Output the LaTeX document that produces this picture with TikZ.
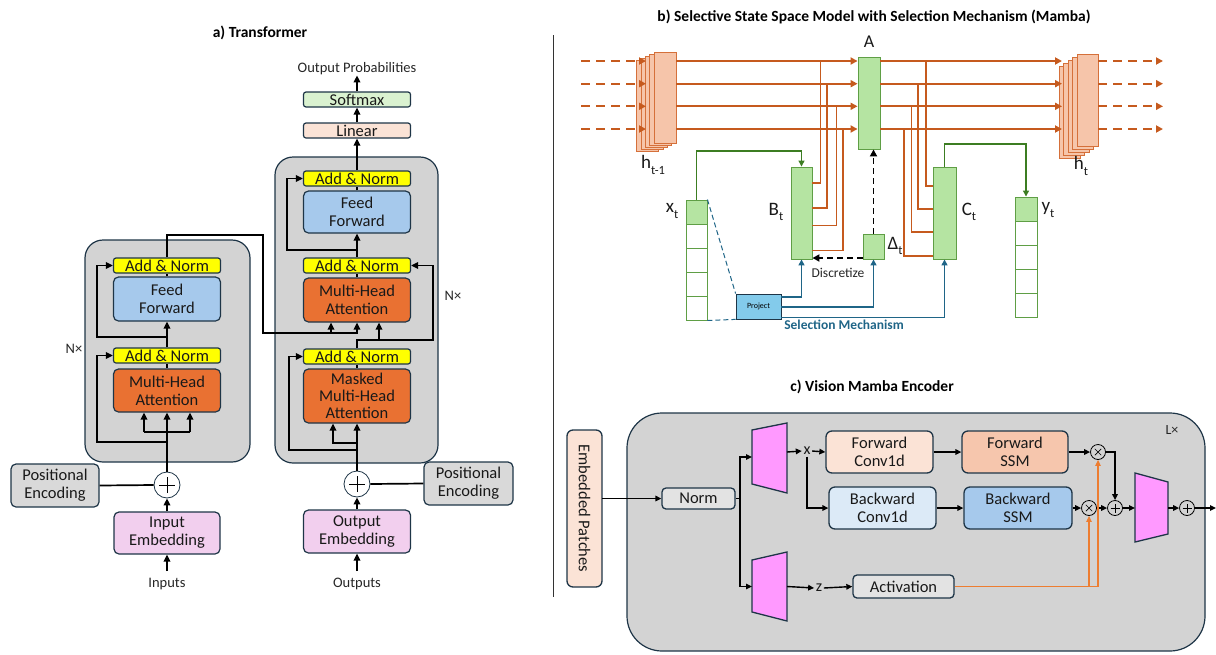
\documentclass[tikz,border=0pt]{standalone}
\usepackage{fontspec}
\setmainfont{Carlito}
\usetikzlibrary{arrows.meta}

\definecolor{edge}{HTML}{1E3547}
\definecolor{panelbg}{HTML}{D3D3D3}
\definecolor{addnorm}{HTML}{FFFF00}
\definecolor{ffblue}{HTML}{A6C9EC}
\definecolor{attn}{HTML}{E97132}
\definecolor{posgray}{HTML}{D9D9D9}
\definecolor{embpink}{HTML}{F2CFEE}
\definecolor{linpeach}{HTML}{FBE3D6}
\definecolor{softgreen}{HTML}{DAF2D0}
\definecolor{hline}{HTML}{C65A1E}
\definecolor{hfill}{HTML}{F6C5AA}
\definecolor{hedge}{HTML}{D5703A}
\definecolor{mgreen}{HTML}{B5E4A2}
\definecolor{mgedge}{HTML}{5F9E45}
\definecolor{garrow}{HTML}{3C7D22}
\definecolor{selblue}{HTML}{1F6587}
\definecolor{projfill}{HTML}{83CBEB}
\definecolor{convblue}{HTML}{DCEAF7}
\definecolor{ssmpeach}{HTML}{F6C6AD}
\definecolor{trapfill}{HTML}{FF99FF}
\definecolor{actline}{HTML}{ED7D31}
\definecolor{normgray}{HTML}{E3E3E3}

\newcommand\lowsub[1]{\raisebox{-0.3em}{\fontsize{12.5}{12.5}\selectfont #1}}
\newcommand\bx[7]{\node[#6, minimum width=#4, minimum height=#5] (#1) at (#2,#3) {#7};}
\newcommand\plusmark[2]{\draw[line width=0.7pt] ([xshift=-#2]#1.center) -- ([xshift=#2]#1.center) ([yshift=-#2]#1.center) -- ([yshift=#2]#1.center);}
\newcommand\timesmark[2]{\draw[line width=0.7pt] ([xshift=-#2,yshift=-#2]#1.center) -- ([xshift=#2,yshift=#2]#1.center) ([xshift=-#2,yshift=#2]#1.center) -- ([xshift=#2,yshift=-#2]#1.center);}

\tikzset{
  blk/.style={draw=edge, line width=1.2pt, rounded corners=5pt, align=center,
    inner sep=0pt, text=black!90, font=\fontsize{16.5}{18}\selectfont},
  bar/.style={blk, rounded corners=2.5pt},
  panel/.style={fill=panelbg, draw=edge, line width=1.2pt},
  lbl/.style={inner sep=0pt, text=black!85, font=\fontsize{14.5}{16}\selectfont},
  ttl/.style={inner sep=0pt, font=\fontsize{15.5}{17}\selectfont\bfseries},
  sym/.style={inner sep=0pt, text=black!90, font=\fontsize{19}{20}\selectfont},
  sumnode/.style={circle, draw=edge, line width=0.8pt, fill=white, minimum size=26pt, inner sep=0pt},
  opnode/.style={circle, draw=black, line width=0.8pt, minimum size=15pt, inner sep=0pt},
  wire/.style={line width=1.7pt},
  arr/.style={wire, -{Triangle[length=7pt,width=6.5pt]}},
  carr/.style={line width=1.4pt, -{Triangle[length=6pt,width=5.5pt]}},
  hw/.style={draw=hline, line width=1.8pt},
  harr/.style={hw, -{Triangle[length=7pt,width=7pt]}},
  hdash/.style={harr, dash pattern=on 9pt off 6pt},
  hstack/.style={draw=hedge, fill=hfill, line width=0.8pt},
  mbox/.style={draw=mgedge, fill=mgreen, line width=0.9pt, inner sep=0pt},
  cell/.style={draw=mgedge, fill=white, line width=0.9pt, inner sep=0pt, minimum width=21pt, minimum height=24pt},
  garr/.style={draw=garrow, line width=1.2pt, -{Triangle[length=6pt,width=6pt]}},
  barr/.style={draw=selblue, line width=1.8pt, -{Triangle[length=6pt,width=6pt]}},
  bdash/.style={draw=selblue, line width=1pt, dash pattern=on 5pt off 3pt},
  karr/.style={line width=1.8pt, dash pattern=on 6pt off 4pt, -{Triangle[length=7pt,width=7pt]}},
  mblk/.style={blk, line width=1.3pt, rounded corners=6pt},
  sblk/.style={mblk, rounded corners=4pt},
  trap/.style={draw=edge, fill=trapfill, line width=1.3pt},
  oarr/.style={draw=actline, line width=1.2pt, -{Triangle[length=6pt,width=5.5pt]}},
}

\begin{document}
\begin{tikzpicture}[x=1pt,y=-1pt]
\useasboundingbox (0,0) rectangle (1216,654);

% ================= a) Transformer =================
\node[ttl] at (260,33) {a) Transformer};

% encoder
\draw[panel, rounded corners=18pt] (85,240) rectangle (250,462);
\bx{encAN2}{167}{265.5}{107}{15}{bar, fill=addnorm}{Add \& Norm}
\bx{encFF}{167}{299}{107}{44}{blk, fill=ffblue}{Feed\\Forward}
\bx{encAN1}{167}{355.5}{107}{15}{bar, fill=addnorm}{Add \& Norm}
\bx{encMHA}{167}{390.5}{107}{43}{blk, fill=attn}{Multi-Head\\Attention}
\node[sumnode] (encSum) at (167,485) {};
\plusmark{encSum}{8pt}
\bx{encPE}{55}{485.5}{88}{43}{blk, fill=posgray}{Positional\\Encoding}
\bx{encEmb}{167}{533}{106}{42}{blk, fill=embpink}{Input\\Embedding}
\node[lbl] (inputs) at (167,584) {Inputs};
\node[lbl] at (74,349) {N×};

% decoder
\draw[panel, rounded corners=18pt] (275,157) rectangle (438,463);
\bx{decSoft}{357}{99.5}{107}{15}{bar, fill=softgreen}{Softmax}
\bx{decLin}{357}{130.5}{107}{15}{bar, fill=linpeach}{Linear}
\bx{decAN3}{357}{178.5}{107}{15}{bar, fill=addnorm}{Add \& Norm}
\bx{decFF}{357}{212}{107}{42}{blk, fill=ffblue}{Feed\\Forward}
\bx{decAN2}{357}{265.5}{107}{15}{bar, fill=addnorm}{Add \& Norm}
\bx{decMHA}{357}{300}{107}{44}{blk, fill=attn}{Multi-Head\\Attention}
\bx{decAN1}{357}{356.5}{107}{15}{bar, fill=addnorm}{Add \& Norm}
\bx{decMMHA}{357}{396}{107}{54}{blk, fill=attn, font=\fontsize{16.5}{17}\selectfont}{Masked\\Multi-Head\\Attention}
\node[sumnode] (decSum) at (357,484) {};
\plusmark{decSum}{8pt}
\bx{decPE}{468.5}{483.5}{89}{43}{blk, fill=posgray}{Positional\\Encoding}
\bx{decEmb}{357}{531.5}{107}{43}{blk, fill=embpink}{Output\\Embedding}
\node[lbl] (outputs) at (357,584) {Outputs};
\node[lbl] (outprob) at (357,69) {Output Probabilities};
\node[lbl] at (453,296) {N×};

% encoder wiring
\draw[arr] (inputs) ++(0,-13) -- (encEmb.south);
\draw[arr] (encEmb.north) -- (encSum.south);
\draw[wire] (encPE.east) -- (encSum.west);
\draw[arr] (encSum.north) -- (encMHA.south);
\draw[wire] (144,432) -- (190,432);
\draw[arr] (144,432) -- (encMHA.south -| 144,0);
\draw[arr] (190,432) -- (encMHA.south -| 190,0);
\draw[arr] (167,442) -- (97,442) |- (encAN1.west);
\draw[wire] (encMHA.north) -- (encAN1.south);
\draw[arr] (encAN1.north) -- (encFF.south);
\draw[arr] (167,337) -- (97,337) |- (encAN2.west);
\draw[wire] (encFF.north) -- (encAN2.south);
\draw[arr] (encAN2.north) -- (167,235) -- (263,235) -- (263,333) -- (357,333) -- (decMHA.south);
\draw[arr] (331,333) -- (decMHA.south -| 331,0);

% decoder wiring
\draw[arr] (outputs) ++(0,-13) -- (decEmb.south);
\draw[arr] (decEmb.north) -- (decSum.south);
\draw[wire] (decSum.east) -- (decPE.west);
\draw[arr] (decSum.north) -- (decMMHA.south);
\draw[arr] (357,443) -- (333,443) -- (decMMHA.south -| 333,0);
\draw[arr] (357,450) -- (289,450) |- (decAN1.west);
\draw[wire] (decMMHA.north) -- (decAN1.south);
\draw[arr] (decAN1.north) -- (357,340) -- (379,340) -- (decMHA.south -| 379,0);
\draw[arr] (379,340) -- (433,340) |- (decAN2.east);
\draw[wire] (decMHA.north) -- (decAN2.south);
\draw[arr] (decAN2.north) -- (decFF.south);
\draw[arr] (357,250) -- (287,250) |- (decAN3.west);
\draw[wire] (decFF.north) -- (decAN3.south);
\draw[arr] (decAN3.north) -- (decLin.south);
\draw[arr] (decLin.north) -- (decSoft.south);
\draw[arr] (decSoft.north) -- (outprob.south);

% divider
\draw[line width=1pt, black!80] (553,35) -- (553,597);

% ================= b) Selective SSM =================
\node[ttl] at (874,17) {b) Selective State Space Model with Selection Mechanism (Mamba)};

% hidden state stacks
\foreach \k in {4,3,2,1} \draw[hstack] ({654-4.3*\k},{52+2*\k}) rectangle ({676-4.3*\k},{143+2*\k});
\node[hstack, minimum width=22, minimum height=91, inner sep=0pt] (hprev) at (665,97.5) {};
\foreach \k in {4,3,2,1} \draw[hstack] ({1077-4.5*\k},{54+3*\k}) rectangle ({1098-4.5*\k},{146+3*\k});
\node[hstack, minimum width=21, minimum height=92, inner sep=0pt] (hnext) at (1087.5,100) {};

% parameter blocks
\node[mbox, minimum width=22, minimum height=92] (A) at (869,103) {};
\node[mbox, minimum width=21, minimum height=92] (B) at (801.5,213) {};
\node[mbox, minimum width=23, minimum height=92] (C) at (944.5,213) {};
\node[mbox, minimum width=21, minimum height=25] (D) at (873.5,246.5) {};

\node[sym, font=\fontsize{18}{19}\selectfont] at (869,42) {A};
\node[sym] at (653,165) {h\lowsub{t-1}};
\node[sym] at (1081,166) {h\lowsub{t}};
\node[sym] at (776,212) {B\lowsub{t}};
\node[sym] at (969,212) {C\lowsub{t}};
\node[sym] at (895,246) {Δ\lowsub{t}};
\node[sym] at (672,211) {x\lowsub{t}};
\node[sym] at (1048,210) {y\lowsub{t}};

% state channels
\foreach \y in {61,83.7,106.3,129} {
  \draw[hdash] (581,\y) -- (646,\y);
  \draw[harr] (hprev.east |- 0,\y) -- (A.west |- 0,\y);
  \draw[harr] (A.east |- 0,\y) -- (1062,\y);
  \draw[hdash] (hnext.east |- 0,\y) -- (1163,\y);
}
\draw[hw] (820.5,61) |- (B.east |- 0,183);
\draw[hw] (827,83.7) |- (B.east |- 0,208);
\draw[hw] (836.5,106.3) |- (B.east |- 0,225.5);
\draw[hw] (843,129) |- (B.east |- 0,250.5);
\draw[hw] (926,61) |- (C.west |- 0,186);
\draw[hw] (918,83.7) |- (C.west |- 0,209);
\draw[hw] (911.5,106.3) |- (C.west |- 0,232);
\draw[hw] (904,129) |- (C.west |- 0,256);

% input and output token vectors
\node[cell, fill=mgreen] (x1) at (696.5,212) {};
\foreach \i in {2,...,5} \node[cell] (x\i) at (696.5,{188+24*\i}) {};
\node[cell, fill=mgreen, minimum width=22] (y1) at (1026,209) {};
\foreach \i in {2,...,5} \node[cell, minimum width=22] (y\i) at (1026,{185+24*\i}) {};

\draw[garr] (x1.north) |- (B.north |- 0,151) -- (B.north);
\draw[garr] (C.north) |- (y1.north |- 0,144) -- (y1.north);

% selection mechanism
\node[draw=edge, line width=0.8pt, fill=projfill, minimum width=45, minimum height=25,
      inner sep=0pt, font=\fontsize{8}{8}\selectfont] (proj) at (758.5,306.5) {Project};
\draw[bdash] (x1.north east) -- (proj.north west);
\draw[bdash] (x5.south east) -- (proj.south west);
\draw[barr] (proj.east |- 0,297) -| (B.south);
\draw[barr] (proj.east |- 0,307) -| (D.south);
\draw[barr] (proj.east |- 0,317.5) -| (C.south);
\draw[karr] (D.north) -- (D.north |- A.south);
\draw[karr] (D.west |- 0,258) -- (B.east |- 0,258);
\node[lbl, font=\fontsize{13.5}{15}\selectfont] at (838,273) {Discretize};
\node[inner sep=0pt, text=selblue, font=\fontsize{13.5}{15}\selectfont\bfseries] at (844,325) {Selection Mechanism};

% ================= c) Vision Mamba Encoder =================
\node[ttl] at (872,387) {c) Vision Mamba Encoder};
\draw[panel, rounded corners=35pt] (627,413) rectangle (1205,651);
\node[lbl, font=\fontsize{14}{15}\selectfont] at (1172,430) {L×};

\node[mblk, fill=linpeach, rotate=-90, minimum width=157, minimum height=35] (patches) at (584.5,508.5) {Embedded Patches};
\bx{norm}{698.5}{498.5}{73}{21}{sblk, fill=normgray}{Norm}

\draw[trap] (752,430) -- (787,423) -- (787,493) -- (752,484) -- cycle;
\coordinate (t1in) at (752,457);
\coordinate (t1out) at (787,452);
\draw[trap] (752,560) -- (787,552) -- (787,621) -- (752,612) -- cycle;
\coordinate (t2in) at (752,586.5);
\coordinate (t2out) at (787,586.5);

\node[sym, inner sep=1.5pt, font=\fontsize{16}{16}\selectfont] (xl) at (807,451) {x};
\node[sym, inner sep=1.5pt, font=\fontsize{16}{16}\selectfont] (zl) at (819,588) {z};

\bx{fconv}{879.5}{452}{107}{42}{mblk, fill=linpeach}{Forward\\Conv1d}
\bx{bconv}{882.5}{508}{107}{42}{mblk, fill=convblue}{Backward\\Conv1d}
\bx{fssm}{1015}{452}{106}{42}{mblk, fill=ssmpeach}{Forward\\SSM}
\bx{bssm}{1018}{508}{108}{42}{mblk, fill=ffblue}{Backward\\SSM}
\bx{act}{903.5}{586.5}{101}{23}{sblk, fill=normgray}{Activation}

\node[opnode] (mulF) at (1098,452) {};
\timesmark{mulF}{3.2pt}
\node[opnode] (mulB) at (1089,508) {};
\timesmark{mulB}{3.2pt}
\node[opnode] (addM) at (1115,508) {};
\plusmark{addM}{4.5pt}
\draw[trap] (1135,473) -- (1168,482) -- (1168,534) -- (1135,542) -- cycle;
\coordinate (t3in) at (1135,508);
\coordinate (t3out) at (1168,508);
\node[opnode] (addR) at (1187,508) {};
\plusmark{addR}{4.5pt}
\coordinate (outEnd) at (1216,508);

\draw[carr] ([xshift=17.5pt]patches.center |- norm.west) -- (norm.west);
\draw[line width=1.4pt] (norm.east) -- (740,498.5);
\draw[carr] (740,498.5) |- (t1in);
\draw[carr] (740,498.5) |- (t2in);
\draw[carr] (t1out) -- (xl.west);
\draw[carr] (xl.east) -- (fconv.west);
\draw[carr] (xl.south) |- (bconv.west);
\draw[carr] (t2out) -- (zl.west);
\draw[carr] (zl.east) -- (act.west);
\draw[carr] (fconv.east) -- (fssm.west);
\draw[carr] (bconv.east) -- (bssm.west);
\draw[carr] (fssm.east) -- (mulF.west);
\draw[carr] (bssm.east) -- (mulB.west);
\draw[carr] (mulF.east) -| (addM.north);
\draw[carr] (mulB.east) -- (addM.west);
\draw[carr] (addM.east) -- (t3in);
\draw[carr] (t3out) -- (addR.west);
\draw[carr] (addR.east) -- (outEnd);
\draw[oarr] (act.east) -| (mulF.south);
\draw[oarr] (mulB.south |- act.east) -- (mulB.south);

\end{tikzpicture}
\end{document}
